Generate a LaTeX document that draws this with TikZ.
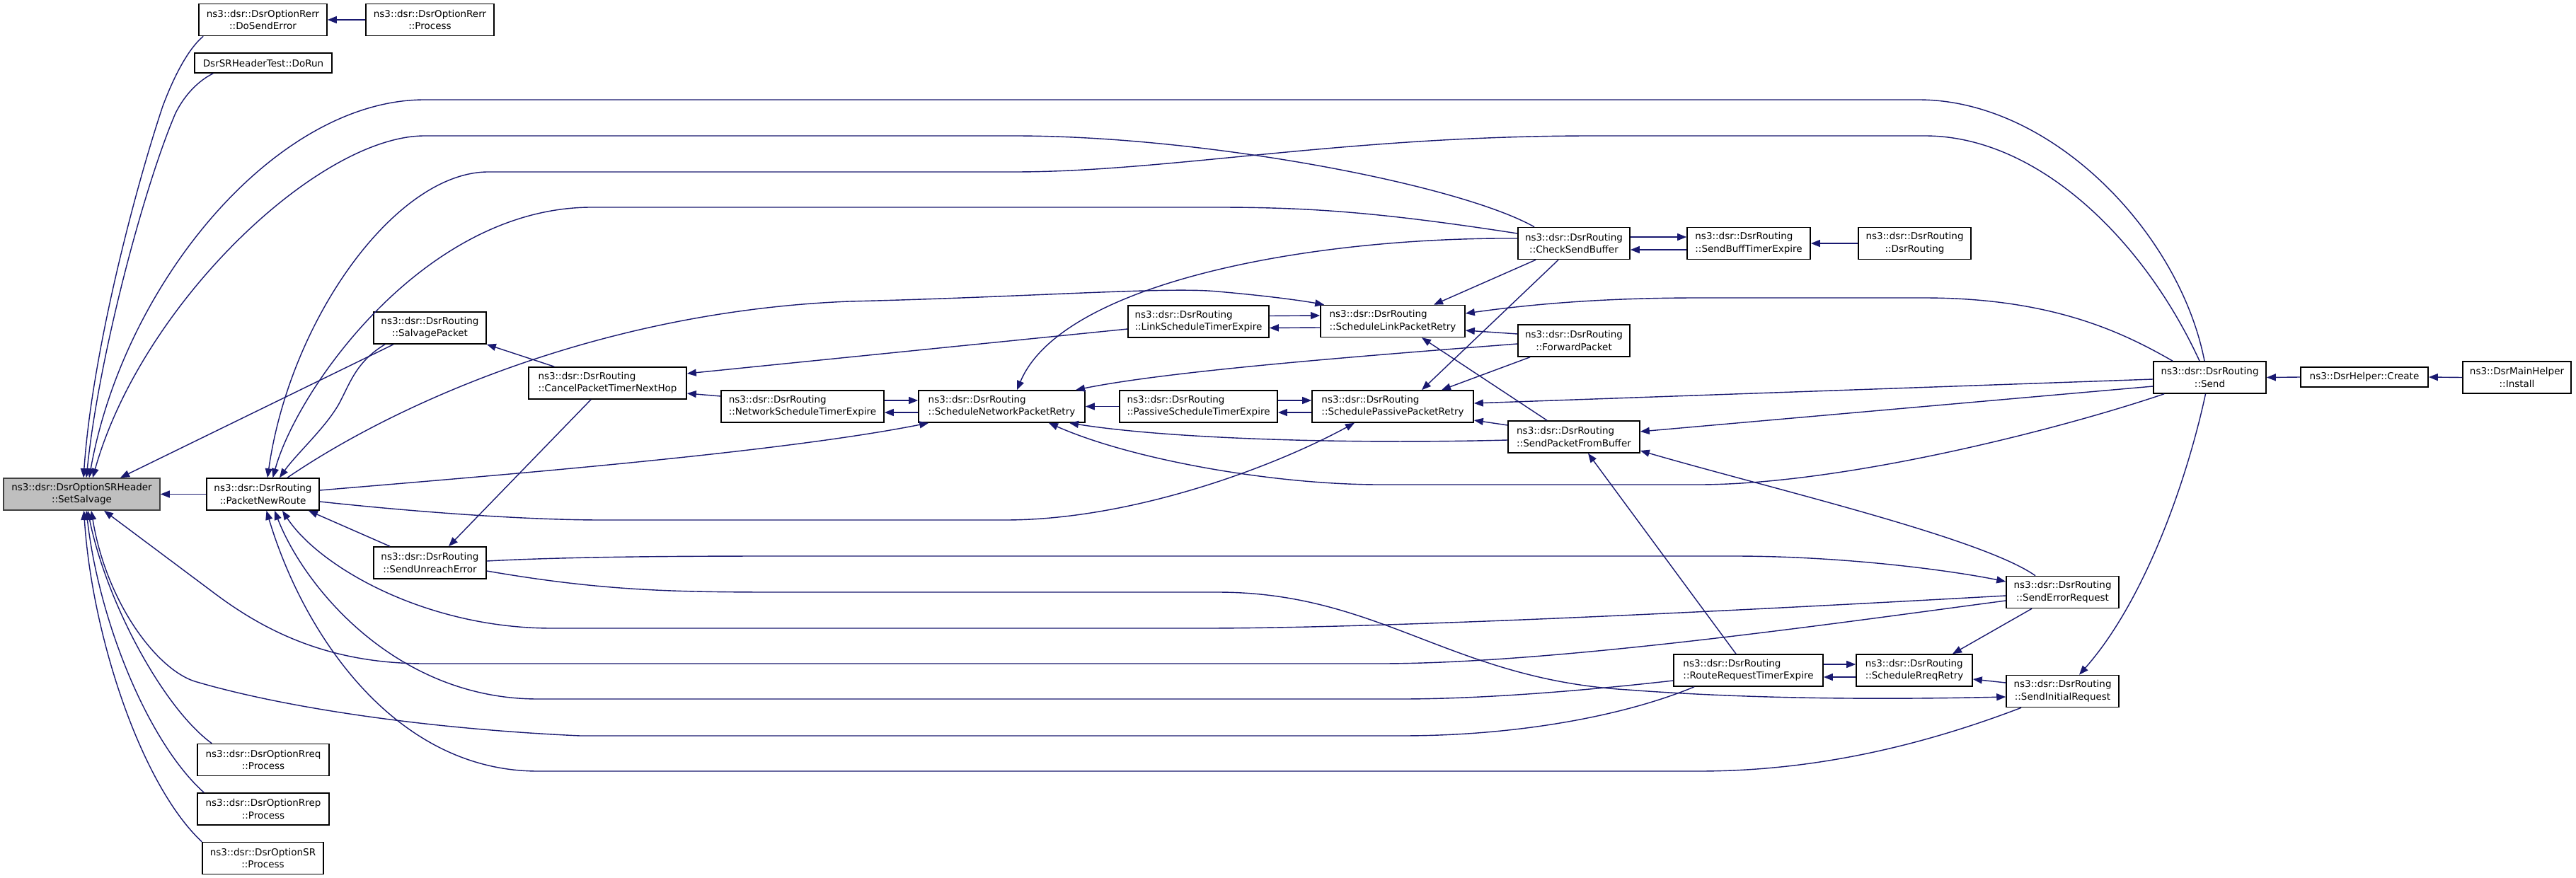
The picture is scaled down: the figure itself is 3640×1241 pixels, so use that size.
\documentclass[tikz,border=0pt]{standalone}
\usepackage{fontspec}
\setmainfont{DejaVu Sans}
\usetikzlibrary{arrows.meta}
\definecolor{edgeblue}{HTML}{191970}
\tikzset{
FUNC/.style={draw=black,fill=white,line width=1.6pt,inner sep=2pt,font=\fontsize{13.5}{17.5}\selectfont,minimum height=45pt,align=center},
FUNCL/.style={FUNC,align=left},
ROOT/.style={FUNC,fill=black!25,draw=black!75},
CALL/.style={draw=edgeblue,line width=1.4pt,-{Triangle[length=13pt,width=10pt]}},
}
\begin{document}
\begin{tikzpicture}[x=1pt,y=-1pt]
	\useasboundingbox (0,0) rectangle (3640,1241);
	\fill[white] (0,0) rectangle (3640,1241);
	\node[ROOT,minimum width=221pt] (setsalvage) at (115.5,698.5) {ns3::dsr::DsrOptionSRHeader\\::SetSalvage};
	\node[FUNC,minimum width=181pt] (dosenderror) at (371.5,28) {ns3::dsr::DsrOptionRerr\\::DoSendError};
	\node[FUNC,minimum width=181pt] (rerrprocess) at (607.5,28) {ns3::dsr::DsrOptionRerr\\::Process};
	\node[FUNC,minimum width=194pt,minimum height=28pt] (dorun) at (372,89) {DsrSRHeaderTest::DoRun};
	\node[FUNC,minimum width=159pt] (packetnewroute) at (371.5,698.5) {ns3::dsr::DsrRouting\\::PacketNewRoute};
	\node[FUNC,minimum width=159pt] (salvagepacket) at (607.5,463.5) {ns3::dsr::DsrRouting\\::SalvagePacket};
	\node[FUNC,minimum width=159pt] (sendunreach) at (607.5,795.5) {ns3::dsr::DsrRouting\\::SendUnreachError};
	\node[FUNC,minimum width=186pt] (rreqprocess) at (372,1074) {ns3::dsr::DsrOptionRreq\\::Process};
	\node[FUNC,minimum width=186pt] (rrepprocess) at (372,1143.5) {ns3::dsr::DsrOptionRrep\\::Process};
	\node[FUNC,minimum width=171pt] (srprocess) at (371.5,1213) {ns3::dsr::DsrOptionSR\\::Process};
	\node[FUNCL,minimum width=223pt] (cancelhop) at (858.5,541.5) {ns3::dsr::DsrRouting\\::CancelPacketTimerNextHop};
	\node[FUNCL,minimum width=230pt] (netexpire) at (1134,574.5) {ns3::dsr::DsrRouting\\::NetworkScheduleTimerExpire};
	\node[FUNCL,minimum width=235pt] (netretry) at (1415.5,574.5) {ns3::dsr::DsrRouting\\::ScheduleNetworkPacketRetry};
	\node[FUNCL,minimum width=199pt] (linkexpire) at (1693.5,454.5) {ns3::dsr::DsrRouting\\::LinkScheduleTimerExpire};
	\node[FUNCL,minimum width=223pt] (passexpire) at (1693.5,574.5) {ns3::dsr::DsrRouting\\::PassiveScheduleTimerExpire};
	\node[FUNCL,minimum width=204pt] (linkretry) at (1968,454) {ns3::dsr::DsrRouting\\::ScheduleLinkPacketRetry};
	\node[FUNCL,minimum width=228pt] (passretry) at (1968,574.5) {ns3::dsr::DsrRouting\\::SchedulePassivePacketRetry};
	\node[FUNC,minimum width=158pt] (checkbuffer) at (2224,344) {ns3::dsr::DsrRouting\\::CheckSendBuffer};
	\node[FUNCL,minimum width=174pt] (buffexpire) at (2471,344) {ns3::dsr::DsrRouting\\::SendBuffTimerExpire};
	\node[FUNC,minimum width=159pt] (dsrrouting) at (2705.5,344) {ns3::dsr::DsrRouting\\::DsrRouting};
	\node[FUNC,minimum width=158pt] (forward) at (2224,481.5) {ns3::dsr::DsrRouting\\::ForwardPacket};
	\node[FUNCL,minimum width=186pt] (sendfrombuffer) at (2224,617.5) {ns3::dsr::DsrRouting\\::SendPacketFromBuffer};
	\node[FUNC,minimum width=159pt] (send) at (3122.5,533.5) {ns3::dsr::DsrRouting\\::Send};
	\node[FUNC,minimum width=180pt,minimum height=28pt] (create) at (3341,533) {ns3::DsrHelper::Create};
	\node[FUNC,minimum width=153pt] (install) at (3556.5,533.5) {ns3::DsrMainHelper\\::Install};
	\node[FUNC,minimum width=159pt] (senderrreq) at (2914.5,837) {ns3::dsr::DsrRouting\\::SendErrorRequest};
	\node[FUNCL,minimum width=211pt] (rreqexpire) at (2470.5,947.5) {ns3::dsr::DsrRouting\\::RouteRequestTimerExpire};
	\node[FUNCL,minimum width=164pt] (rreqretry) at (2705,947.5) {ns3::dsr::DsrRouting\\::ScheduleRreqRetry};
	\node[FUNC,minimum width=159pt] (sendinitreq) at (2914.5,977) {ns3::dsr::DsrRouting\\::SendInitialRequest};

	\path[CALL] (install.west) -- (create.east);
	\path[CALL] (create.west) -- (send.east);
	\path[CALL] (dsrrouting.west) -- (buffexpire.east);
	\path[CALL] ([yshift=9pt]checkbuffer.east) -- ([yshift=9pt]buffexpire.west);
	\path[CALL] ([yshift=-9pt]buffexpire.west) -- ([yshift=-9pt]checkbuffer.east);
	\path[CALL] ([yshift=8pt]linkexpire.east) -- ([yshift=8pt]linkretry.west);
	\path[CALL] ([yshift=-9pt]linkretry.west) -- ([yshift=-9pt]linkexpire.east);
	\path[CALL] ([yshift=8.5pt]netexpire.east) -- ([yshift=8.5pt]netretry.west);
	\path[CALL] ([yshift=-8.5pt]netretry.west) -- ([yshift=-8.5pt]netexpire.east);
	\path[CALL] ([yshift=8.5pt]passexpire.east) -- ([yshift=8.5pt]passretry.west);
	\path[CALL] ([yshift=-8.5pt]passretry.west) -- ([yshift=-8.5pt]passexpire.east);
	\path[CALL] (passexpire.west) -- (netretry.east);
	\path[CALL] ([yshift=8.5pt]rreqexpire.east) -- ([yshift=8.5pt]rreqretry.west);
	\path[CALL] ([yshift=-9.5pt]rreqretry.west) -- ([yshift=-9.5pt]rreqexpire.east);
	\path[CALL] ([yshift=12pt]sendinitreq.west) -- ([yshift=-12.5pt]rreqretry.east);
	\path[CALL] ([xshift=-43.5pt]senderrreq.south) -- ([xshift=54pt]rreqretry.north);
	\path[CALL] ([xshift=-6pt]send.south) .. controls (3090,680) and (3030,850) .. ([xshift=23.5pt]sendinitreq.north);
	\path[CALL] ([yshift=14.5pt]netexpire.west) -- ([yshift=-14.5pt]cancelhop.east);
	\path[CALL] ([yshift=-10.5pt]linkexpire.west) -- ([yshift=13.5pt]cancelhop.east);
	\path[CALL] ([xshift=37pt]cancelhop.north west) -- (salvagepacket.south east);
	\path[CALL] ([xshift=-23.5pt]cancelhop.south) -- ([xshift=26.5pt]sendunreach.north);
	\path[CALL] ([xshift=-51.5pt]salvagepacket.south) -- ([xshift=54.5pt]setsalvage.north);
	\path[CALL] ([xshift=-63.5pt]salvagepacket.south) .. controls (505,510) and (495,540) .. (482,565) .. controls (465,600) and (420,640) .. ([xshift=23.5pt]packetnewroute.north);
	\path[CALL] ([xshift=-56.5pt]sendunreach.north) -- ([xshift=64.5pt]packetnewroute.south);
	\path[CALL] (packetnewroute.west) -- (setsalvage.east);
	\path[CALL] (rerrprocess.west) -- (dosenderror.east);
	\path[CALL] ([xshift=7pt]dosenderror.south west) .. controls (265,70) and (245,110) .. (230,150) .. controls (190,270) and (130,500) .. ([xshift=2.5pt]setsalvage.north);
	\path[CALL] ([xshift=27pt]dorun.south west) .. controls (275,117) and (258,140) .. (248,160) .. controls (205,260) and (140,500) .. ([xshift=6.5pt]setsalvage.north);
	\path[CALL] ([xshift=-7.5pt]send.north) .. controls (3080,330) and (2900,141) .. (2711,141) -- (600,141) .. controls (390,141) and (175,400) .. ([xshift=10.5pt]setsalvage.north);
	\path[CALL] ([xshift=-56pt]checkbuffer.north) .. controls (2060,260) and (1700,192) .. (1433,192) -- (600,192) .. controls (450,192) and (200,430) .. ([xshift=15.5pt]setsalvage.north);
	\path[CALL] ([xshift=-14.5pt]send.north) .. controls (3030,340) and (2880,192) .. (2720,192) -- (2250,192) .. controls (1900,192) and (1650,243) .. (1433,243) -- (690,243) .. controls (560,243) and (410,450) .. ([xshift=6.5pt]packetnewroute.north);
	\path[CALL] ([yshift=14pt]checkbuffer.west) .. controls (1950,300) and (1850,293) .. (1720,293) -- (836,293) .. controls (600,293) and (420,550) .. ([xshift=14pt]packetnewroute.north);
	\path[CALL] ([xshift=34.5pt]packetnewroute.north) .. controls (560,570) and (850,440) .. (1200,426) .. controls (1450,420) and (1650,405) .. (1720,412) .. controls (1790,418) and (1840,425) .. ([xshift=6pt]linkretry.north west);
	\path[CALL] ([yshift=5.5pt]packetnewroute.east) .. controls (700,672) and (1100,640) .. ([xshift=15pt]netretry.south west);
	\path[CALL] ([yshift=-10.5pt]packetnewroute.east) .. controls (600,725) and (750,735) .. (850,735) -- (1420,735) .. controls (1600,735) and (1800,660) .. ([xshift=-54pt]passretry.south);
	\path[CALL] ([yshift=7pt]checkbuffer.west) .. controls (1850,335) and (1500,400) .. ([xshift=21.5pt]netretry.north);
	\path[CALL] ([yshift=-4.5pt]forward.west) .. controls (1900,505) and (1650,525) .. ([xshift=104.5pt]netretry.north);
	\path[CALL] ([xshift=-64.5pt]send.south) .. controls (2900,610) and (2600,685) .. (2400,685) -- (1950,685) .. controls (1800,685) and (1600,650) .. ([xshift=66.5pt]netretry.south);
	\path[CALL] ([yshift=-4.5pt]sendfrombuffer.west) .. controls (1900,628) and (1650,620) .. ([xshift=95.5pt]netretry.south);
	\path[CALL] ([xshift=-52.5pt]send.north) .. controls (3000,470) and (2900,421) .. (2718,421) -- (2400,421) .. controls (2250,421) and (2150,432) .. ([yshift=11pt]linkretry.east);
	\path[CALL] ([xshift=-54pt]checkbuffer.south) -- ([xshift=58pt]linkretry.north);
	\path[CALL] ([xshift=-22pt]checkbuffer.south) -- ([xshift=41pt]passretry.north);
	\path[CALL] ([yshift=9.5pt]forward.west) -- ([yshift=-13pt]linkretry.east);
	\path[CALL] ([xshift=-62pt]forward.south) -- ([xshift=69pt]passretry.north);
	\path[CALL] ([xshift=-38pt]sendfrombuffer.north) -- ([xshift=41pt]linkretry.south);
	\path[CALL] ([yshift=16.5pt]sendfrombuffer.west) -- ([yshift=-19.5pt]passretry.east);
	\path[CALL] ([yshift=-2.5pt]send.west) -- ([yshift=4.5pt]passretry.east);
	\path[CALL] ([yshift=-12.5pt]send.west) -- ([yshift=7.5pt]sendfrombuffer.east);
	\path[CALL] ([xshift=-38.5pt]senderrreq.north) .. controls (2800,760) and (2500,690) .. ([yshift=-19.5pt]sendfrombuffer.east);
	\path[CALL] ([xshift=-17.5pt]rreqexpire.north) -- ([xshift=20pt]sendfrombuffer.south);
	\path[CALL] ([yshift=2.5pt]sendunreach.east) .. controls (800,787) and (950,786) .. (1100,786) -- (2450,786) .. controls (2600,786) and (2750,805) .. ([yshift=15pt]senderrreq.west);
	\path[CALL] ([yshift=-11.5pt]sendunreach.east) .. controls (850,835) and (950,837) .. (1100,837) -- (1720,837) .. controls (1950,837) and (2050,960) .. (2300,975) .. controls (2500,990) and (2700,988) .. ([yshift=-8pt]sendinitreq.west);
	\path[CALL] ([yshift=-5pt]senderrreq.west) .. controls (2600,855) and (2000,888) .. (1700,888) -- (780,888) .. controls (600,888) and (450,800) .. ([xshift=27.5pt]packetnewroute.south);
	\path[CALL] ([yshift=-14.5pt]rreqexpire.west) .. controls (2250,975) and (2100,988) .. (1980,988) -- (760,988) .. controls (560,988) and (430,830) .. ([xshift=16.5pt]packetnewroute.south);
	\path[CALL] ([xshift=-58.5pt]sendinitreq.south) .. controls (2700,1060) and (2550,1090) .. (2400,1090) -- (760,1090) .. controls (560,1090) and (430,900) .. ([xshift=5pt]packetnewroute.south);
	\path[CALL] ([yshift=-12pt]senderrreq.west) .. controls (2600,880) and (2200,938) .. (1950,938) -- (600,938) .. controls (470,938) and (380,896) .. (305,840) -- ([xshift=31.5pt]setsalvage.south);
	\path[CALL] ([xshift=-76.5pt]rreqexpire.south) .. controls (2300,1010) and (2150,1040) .. (1980,1040) -- (820,1040) .. controls (600,1030) and (400,1000) .. (275,963) .. controls (220,945) and (150,850) .. ([xshift=13.5pt]setsalvage.south);
	\path[CALL] ([xshift=21pt]rreqprocess.north west) .. controls (230,1000) and (150,850) .. ([xshift=8.5pt]setsalvage.south);
	\path[CALL] ([xshift=10pt]rrepprocess.north west) .. controls (210,1050) and (140,880) .. ([xshift=6.5pt]setsalvage.south);
	\path[CALL] (srprocess.north west) .. controls (200,1110) and (130,900) .. ([xshift=3pt]setsalvage.south);
\end{tikzpicture}
\end{document}
